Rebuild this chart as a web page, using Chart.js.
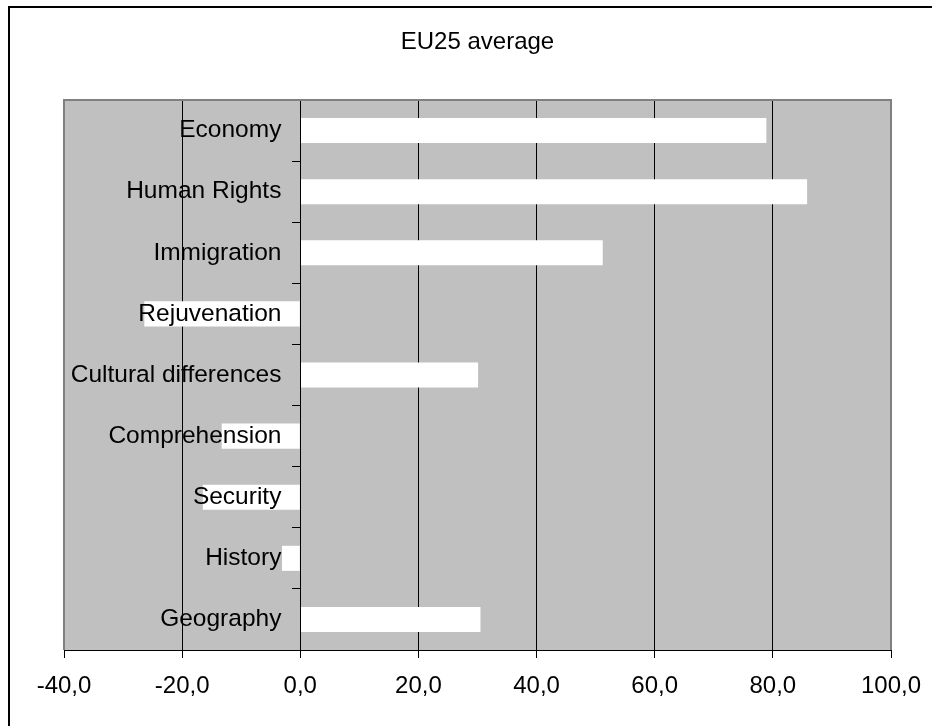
<!DOCTYPE html>
<html>
<head>
<meta charset="utf-8">
<script src="https://cdn.jsdelivr.net/npm/chart.js@4/dist/chart.umd.min.js"></script>
<style>
  html, body { margin: 0; padding: 0; background: #ffffff; }
  #wrap { position: relative; width: 932px; height: 726px; overflow: hidden; }
  #frame { position: absolute; left: 8px; top: 6px; width: 940px; height: 740px;
           border-left: 2px solid #000; border-top: 2px solid #000; box-sizing: border-box; }
  canvas { position: absolute; left: 0; top: 0; }
</style>
</head>
<body>
<div id="wrap">
  <div id="frame"></div>
  <canvas id="chart" width="932" height="726"></canvas>
</div>
<script>
// Survey topics and their EU25 average scores
const categories = [
  'Economy', 'Human Rights', 'Immigration', 'Rejuvenation',
  'Cultural differences', 'Comprehension', 'Security', 'History', 'Geography'
];
const averages = [78.9, 85.8, 51.2, -26.4, 30.1, -13.3, -16.5, -3.1, 30.5];
const xTickValues = [-40, -20, 0, 20, 40, 60, 80, 100];
const chartTitle = 'EU25 average';

const FONT = "'Liberation Sans', Arial, sans-serif";

// Grey plot background, painted before grid lines and bars; grey frame on top
const plotBackground = {
  id: 'plotBackground',
  beforeDraw(chart) {
    const { ctx, chartArea: a } = chart;
    ctx.save();
    ctx.fillStyle = '#c0c0c0';
    ctx.fillRect(a.left, a.top, a.right - a.left, a.bottom - a.top);
    ctx.restore();
  },
  afterDraw(chart) {
    const { ctx, chartArea: a } = chart;
    ctx.save();
    ctx.strokeStyle = '#808080';
    ctx.lineWidth = 2;
    ctx.beginPath();
    ctx.moveTo(a.left, a.bottom);
    ctx.lineTo(a.left, a.top);
    ctx.lineTo(a.right, a.top);
    ctx.lineTo(a.right, a.bottom);
    ctx.stroke();
    ctx.restore();
  }
};

new Chart(document.getElementById('chart'), {
  type: 'bar',
  data: {
    labels: categories,
    datasets: [{
      data: averages,
      backgroundColor: '#ffffff',
      borderWidth: 0,
      categoryPercentage: 1.0,
      barPercentage: 0.41
    }]
  },
  options: {
    indexAxis: 'y',
    responsive: false,
    animation: false,
    devicePixelRatio: 1,
    layout: { padding: { left: 64, right: 41, top: 0, bottom: 0 } },
    plugins: {
      legend: { display: false },
      tooltip: { enabled: false },
      title: {
        display: true,
        text: chartTitle,
        color: '#000',
        font: { family: FONT, size: 24, weight: 'normal', lineHeight: 1.2 },
        padding: { top: 28, bottom: 43.2 }
      }
    },
    scales: {
      x: {
        type: 'linear',
        position: 'bottom',
        min: -40,
        max: 100,
        afterBuildTicks(scale) {
          scale.ticks = xTickValues.map(v => ({ value: v }));
        },
        afterFit(scale) {
          // fixed axis band; end labels fit inside the outer padding
          scale.height = 76;
          scale.paddingLeft = 0;
          scale.paddingRight = 0;
        },
        ticks: {
          color: '#000',
          font: { family: FONT, size: 24 },
          padding: 14,
          maxRotation: 0,
          callback: v => v.toFixed(1).replace('.', ',')
        },
        grid: {
          color: ctx => (ctx.tick && (ctx.tick.value === -40 || ctx.tick.value === 100)) ? '#808080' : '#000',
          lineWidth: 1,
          drawTicks: true,
          tickLength: 8,
          tickColor: '#000'
        },
        border: { display: true, color: '#000', width: 1 }
      },
      // category names, set a little left of the zero line and drawn over the bars
      y: {
        type: 'category',
        position: { x: -3.2 },
        ticks: {
          z: 1,
          color: '#000',
          font: { family: FONT, size: 24.5 },
          autoSkip: false
        },
        grid: { display: false },
        border: { display: false }
      },
      // the category axis line at zero with its tick marks between categories
      yAxisLine: {
        type: 'category',
        axis: 'y',
        position: { x: 0 },
        offset: true,
        ticks: { display: false },
        grid: {
          z: 1,
          offset: true,
          drawOnChartArea: false,
          drawTicks: true,
          tickLength: 8,
          tickColor: '#000',
          color: '#000'
        },
        border: { display: true, color: '#000', width: 1, z: 1 }
      }
    }
  },
  plugins: [plotBackground]
});
</script>
</body>
</html>
